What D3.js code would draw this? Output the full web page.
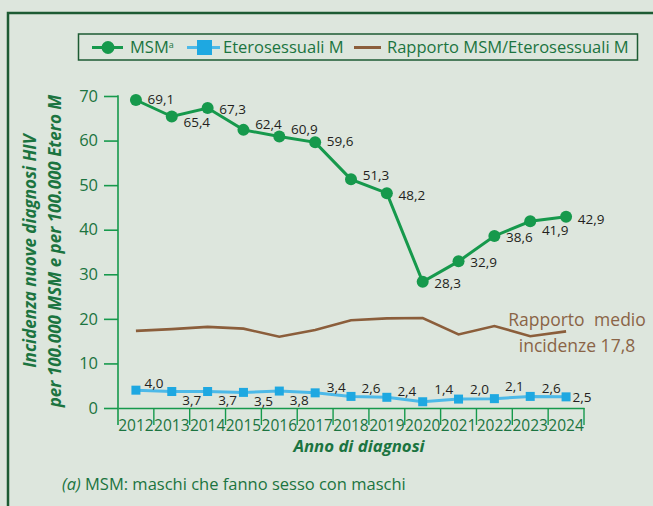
<!DOCTYPE html>
<html><head><meta charset="utf-8">
<script src="https://cdn.jsdelivr.net/npm/d3@7"></script>
<style>
body{margin:0;background:#dde6dd}
svg{display:block}
text{font-family:'Open Sans',sans-serif}
</style>
</head><body>
<svg id="chart" width="653" height="506"></svg>
<script>
// ---- data ----
const years = ["2012","2013","2014","2015","2016","2017","2018","2019","2020","2021","2022","2023","2024"];
const msm = [69.1,65.4,67.3,62.4,60.9,59.6,51.3,48.2,28.3,32.9,38.6,41.9,42.9];
const etero = [4.0,3.7,3.7,3.5,3.8,3.4,2.6,2.4,1.4,2.0,2.1,2.6,2.5];
const rapporto = [17.3,17.7,18.2,17.8,16.0,17.5,19.7,20.1,20.2,16.5,18.4,16.1,17.2];
const yTicks = [0,10,20,30,40,50,60,70];
const rapportoMedio = 17.8;
const seriesNames = ["MSM","Eterosessuali M","Rapporto MSM/Eterosessuali M"];

// label nudges (layout only)
const msmLabelDy = [-1,6,1,-6,-7,-1,-4,2,1,1,1,9,2];
const eteroLabelPos = [[18,-7],[20,9],[20,9],[20,9],[20,9],[21,-6],[20,-8],[20,-6],[21,-12],[21,-10],[20,-12],[21,-8],[16,0]];

const GREEN = "#16994c", BLUE = "#1ea8e1", BLUE_LINE = "#4cb9e8", BROWN = "#8b5e3b";
const TXT_GREEN = "#1b7440", DARK = "#231f20", FRAME = "#1d5b33";

const svg = d3.select("#chart");
svg.append("rect").attr("width",653).attr("height",506).attr("fill","#dde6dd");
// outer frame (top & left visible)
svg.append("path").attr("d","M8,520 V13 H660").attr("fill","none").attr("stroke",FRAME).attr("stroke-width",2.5);

const x = d3.scaleBand().domain(years).range([118,584]).padding(0);
const y = d3.scaleLinear().domain([0,70]).range([408,96]);
const cx = d => x(d) + x.bandwidth()/2;
const fmt = v => d3.format(".1f")(v).replace(".",",");

// y axis
const yAxis = svg.append("g").attr("transform","translate(118,0)")
  .call(d3.axisLeft(y).tickValues(yTicks).tickSize(14).tickPadding(6).tickFormat(d3.format("d")));
yAxis.select(".domain").remove();
yAxis.selectAll(".tick line").attr("stroke",GREEN).attr("stroke-width",1.6);
yAxis.selectAll(".tick text").attr("fill",TXT_GREEN).attr("font-size",16.5).attr("font-family","'Open Sans',sans-serif");
svg.append("line").attr("x1",118).attr("x2",118).attr("y1",y(70)-0.8).attr("y2",425).attr("stroke",GREEN).attr("stroke-width",1.6);

// x axis
const xAxis = svg.append("g").attr("transform","translate(0,408)")
  .call(d3.axisBottom(x).tickSize(0).tickPadding(12));
xAxis.select(".domain").attr("stroke",GREEN).attr("stroke-width",1.6);
xAxis.selectAll(".tick text").attr("fill",TXT_GREEN).attr("font-size",15.5).attr("font-family","'Open Sans',sans-serif").attr("dy","0.7em");
svg.append("g").selectAll("line").data(years).join("line")
  .attr("x1",(d,i)=>x(d) + x.bandwidth()).attr("x2",(d,i)=>x(d) + x.bandwidth())
  .attr("y1",408).attr("y2",425).attr("stroke",GREEN).attr("stroke-width",1.4);

// ratio line
const line = d3.line().x((d,i)=>cx(years[i])).y(d=>y(d));
svg.append("path").datum(rapporto).attr("d",line).attr("fill","none").attr("stroke",BROWN).attr("stroke-width",2.6);

// etero line
svg.append("path").datum(etero).attr("d",line).attr("fill","none").attr("stroke",BLUE_LINE).attr("stroke-width",3);
svg.append("g").selectAll("rect").data(etero).join("rect")
  .attr("x",(d,i)=>cx(years[i])-4.5).attr("y",d=>y(d)-4.5).attr("width",9).attr("height",9).attr("fill",BLUE);

// msm line
svg.append("path").datum(msm).attr("d",line).attr("fill","none").attr("stroke",GREEN).attr("stroke-width",3);
svg.append("g").selectAll("circle").data(msm).join("circle")
  .attr("cx",(d,i)=>cx(years[i])).attr("cy",d=>y(d)).attr("r",6).attr("fill",GREEN);

// labels
svg.append("g").selectAll("text").data(msm).join("text")
  .attr("x",(d,i)=>cx(years[i])+25).attr("y",(d,i)=>y(d)+msmLabelDy[i])
  .attr("dy","0.35em").attr("text-anchor","middle").attr("font-size",13.5).attr("fill",DARK)
  .text(fmt);
svg.append("g").selectAll("text").data(etero).join("text")
  .attr("x",(d,i)=>cx(years[i])+eteroLabelPos[i][0]).attr("y",(d,i)=>y(d)+eteroLabelPos[i][1])
  .attr("dy","0.35em").attr("text-anchor","middle").attr("font-size",13.5).attr("fill",DARK)
  .text(fmt);

// annotation
const ann = svg.append("text").attr("text-anchor","middle").attr("fill","#8a6446").attr("font-size",17.5);
ann.append("tspan").attr("x",577).attr("y",326).attr("word-spacing",5).text("Rapporto medio");
ann.append("tspan").attr("x",577).attr("y",352).text("incidenze " + fmt(rapportoMedio));

// y title
const yt = svg.append("text").attr("transform","translate(0,251) rotate(-90)")
  .attr("text-anchor","middle").attr("fill",TXT_GREEN).attr("font-weight","bold").attr("font-style","italic").attr("font-size",17);
yt.append("tspan").attr("x",0).attr("y",36).text("Incidenza nuove diagnosi HIV");
yt.append("tspan").attr("x",0).attr("y",61).text("per 100.000 MSM e per 100.000 Etero M");

// x title
svg.append("text").attr("x",359).attr("y",452).attr("text-anchor","middle").attr("fill",TXT_GREEN)
  .attr("font-weight","bold").attr("font-style","italic").attr("font-size",16.8).text("Anno di diagnosi");

// footnote
const fn = svg.append("text").attr("x",62).attr("y",490).attr("fill",TXT_GREEN).attr("font-size",16.5);
fn.append("tspan").attr("font-style","italic").text("(a)");
fn.append("tspan").text(" MSM: maschi che fanno sesso con maschi");

// legend
const lg = svg.append("g");
lg.append("rect").attr("x",78.5).attr("y",34).attr("width",559).attr("height",26).attr("fill","none").attr("stroke",FRAME).attr("stroke-width",1.5);
const ly = 47.5;
lg.append("line").attr("x1",92).attr("x2",123).attr("y1",ly).attr("y2",ly).attr("stroke",GREEN).attr("stroke-width",3);
lg.append("circle").attr("cx",108).attr("cy",ly).attr("r",6.5).attr("fill",GREEN);
const t1 = lg.append("text").attr("x",130).attr("y",ly).attr("dy","0.35em").attr("fill",TXT_GREEN).attr("font-size",16.5);
t1.append("tspan").text(seriesNames[0]);
t1.append("tspan").attr("font-size",9).attr("dy","-0.6em").text("a");
lg.append("line").attr("x1",187).attr("x2",220).attr("y1",ly).attr("y2",ly).attr("stroke",BLUE_LINE).attr("stroke-width",3);
lg.append("rect").attr("x",197).attr("y",ly-7.5).attr("width",15).attr("height",15).attr("fill",BLUE);
lg.append("text").attr("x",223).attr("y",ly).attr("dy","0.35em").attr("fill",TXT_GREEN).attr("font-size",16.5).text(seriesNames[1]);
lg.append("line").attr("x1",354).attr("x2",381).attr("y1",ly).attr("y2",ly).attr("stroke",BROWN).attr("stroke-width",3);
lg.append("text").attr("x",387).attr("y",ly).attr("dy","0.35em").attr("fill",TXT_GREEN).attr("font-size",16.5).text(seriesNames[2]);
</script>
</body></html>
